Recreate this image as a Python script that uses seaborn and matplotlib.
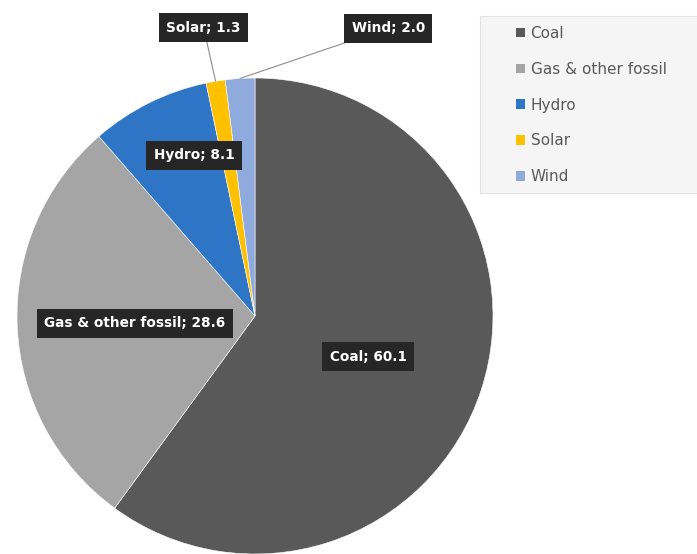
import matplotlib
matplotlib.use("Agg")
import matplotlib.pyplot as plt
from matplotlib.patches import Rectangle
import numpy as np
import seaborn as sns

# data
sources = ["Coal", "Gas & other fossil", "Hydro", "Solar", "Wind"]
shares = [60.1, 28.6, 8.1, 1.3, 2.0]
colors = ["#595959", "#a5a5a5", "#2e75c6", "#ffc000", "#8faadc"]

# label anchor points (pie radius = 1)
label_pos = [(0.475, -0.172), (-0.504, -0.03), (-0.256, 0.676), (-0.216, 1.212), (0.56, 1.21)]
leader = [False, False, False, True, True]

sns.set_theme(style="white")
plt.rcParams["font.family"] = ["DejaVu Sans"]

W, H = 697, 554
fig = plt.figure(figsize=(W / 100, H / 100), dpi=100)
cx, cy, r = 255, 316, 238
ax = fig.add_axes([(cx - r) / W, (H - cy - r) / H, 2 * r / W, 2 * r / H])

wedges, _ = ax.pie(shares, colors=colors, startangle=90, counterclock=False,
                   radius=1, wedgeprops=dict(edgecolor="white", linewidth=0.4))
ax.set_xlim(-1, 1)
ax.set_ylim(-1, 1)
ax.set_aspect("equal")
ax.axis("off")

total = sum(shares)
start = 90.0
for w, name, val, pos, lead in zip(wedges, sources, shares, label_pos, leader):
    span = 360 * val / total
    mid = np.deg2rad(start - span / 2)
    start -= span
    txt = f"{name}; {val:.1f}"
    box = dict(boxstyle="square,pad=0.55", fc="#262626", ec="none")
    if lead:
        ax.annotate(txt, xy=(np.cos(mid), np.sin(mid)), xytext=pos,
                    ha="center", va="center", color="white", fontsize=9.8,
                    fontweight="bold", bbox=box, annotation_clip=False,
                    arrowprops=dict(arrowstyle="-", color="#8c8c8c", lw=0.8,
                                    shrinkA=0, shrinkB=0))
    else:
        ax.text(pos[0], pos[1], txt, ha="center", va="center", color="white",
                fontsize=9.8, fontweight="bold", bbox=box, clip_on=False)

# legend panel
fig.patches.append(Rectangle((480 / W, 1 - 193 / H), (W - 480 + 5) / W, 177 / H,
                             transform=fig.transFigure, fc="#f5f5f5",
                             ec="#e3e3e3", lw=0.8, zorder=0))
leg = fig.legend(wedges, sources, loc="upper left",
                 bbox_to_anchor=(516 / W, 1 - 26 / H), frameon=False,
                 fontsize=11, labelspacing=1.36, handlelength=0.6,
                 handleheight=0.6, handletextpad=0.35, borderpad=0,
                 borderaxespad=0)
for t in leg.get_texts():
    t.set_color("#595959")
for h in leg.legend_handles:
    h.set_edgecolor("none")

fig.savefig("out.png", dpi=100, facecolor="white")
